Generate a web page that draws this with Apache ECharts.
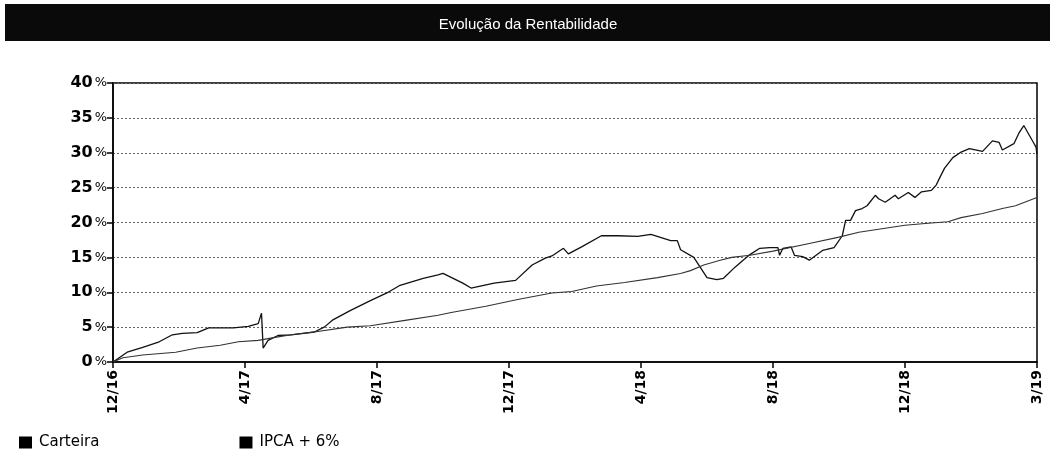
<!DOCTYPE html>
<html>
<head>
<meta charset="utf-8">
<script src="https://cdn.jsdelivr.net/npm/echarts@6/dist/echarts.min.js"></script>
<style>
  html, body { margin: 0; padding: 0; background: #fff; }
  #chart { width: 1056px; height: 452px; }
</style>
</head>
<body>
<div id="chart"></div>
<script>
// x = months since 12/16, y = rentabilidade acumulada (%)
const tickLabels = ['12/16', '4/17', '8/17', '12/17', '4/18', '8/18', '12/18', '3/19'];
const seriesNames = ['Carteira', 'IPCA + 6%'];

const carteiraMonths = [0, 0.43, 0.9, 1.4, 1.8, 2.1, 2.55, 2.9, 3.65, 4.1, 4.4, 4.5, 4.55, 4.7, 5.0, 5.4, 6.1, 6.4,
  6.65, 7.2, 7.8, 8.3, 8.7, 9.4, 9.85, 10.0, 10.6, 10.85, 11.55, 12.2, 12.7, 13.1, 13.3, 13.65, 13.8, 14.2,
  14.8, 15.3, 15.9, 16.3, 16.9, 17.1, 17.2, 17.6, 18.0, 18.3, 18.5, 18.85, 19.05, 19.3, 19.6, 19.9, 20.15,
  20.2, 20.3, 20.55, 20.65, 20.9, 21.1, 21.5, 21.6, 21.85, 22.1, 22.2, 22.35, 22.5, 22.7, 22.85, 23.1, 23.2,
  23.4, 23.7, 23.8, 24.1, 24.3, 24.5, 24.8, 24.95, 25.05, 25.2, 25.45, 25.7, 25.95, 26.35, 26.65, 26.85,
  26.95, 27.3, 27.45, 27.6, 27.9, 27.97, 28];
const carteiraValues = [0, 1.4, 2.1, 2.9, 3.9, 4.1, 4.2, 4.9, 4.9, 5.1, 5.5, 7.0, 2.0, 3.1, 3.8, 3.9, 4.3, 5.0,
  6.0, 7.4, 8.8, 9.9, 11.0, 12.0, 12.5, 12.7, 11.3, 10.6, 11.3, 11.7, 13.9, 14.9, 15.2, 16.3, 15.5, 16.5,
  18.1, 18.1, 18.0, 18.3, 17.4, 17.4, 16.1, 15.0, 12.1, 11.8, 12.0, 13.6, 14.4, 15.4, 16.3, 16.4, 16.4,
  15.3, 16.3, 16.5, 15.3, 15.1, 14.6, 16.0, 16.1, 16.4, 18.1, 20.3, 20.3, 21.7, 22.0, 22.4, 23.9, 23.4,
  22.9, 23.9, 23.4, 24.3, 23.6, 24.4, 24.6, 25.4, 26.4, 27.8, 29.3, 30.1, 30.6, 30.2, 31.7, 31.5,
  30.4, 31.3, 32.8, 33.9, 31.4, 30.8, 29.8];

const ipcaMonths = [0, 0.3, 0.9, 1.9, 2.55, 3.25, 3.8, 4.4, 5.0, 5.4, 6.1, 7.1, 7.8, 8.9, 9.85, 10.25, 11.3,
  12.3, 13.3, 13.9, 14.65, 15.5, 16.5, 17.2, 17.5, 17.9, 18.4, 18.75, 19.3, 20.0, 21.1, 22.0, 22.6, 23.3,
  24.0, 24.7, 25.3, 25.7, 26.35, 26.95, 27.35, 27.9, 28];
const ipcaValues = [0, 0.6, 1.0, 1.4, 2.0, 2.4, 2.9, 3.1, 3.6, 3.9, 4.3, 5.0, 5.2, 6.0, 6.7, 7.1, 8.0,
  9.0, 9.9, 10.1, 10.9, 11.4, 12.1, 12.7, 13.1, 13.9, 14.6, 15.0, 15.3, 15.9, 17.0, 17.9, 18.6, 19.1,
  19.6, 19.9, 20.1, 20.7, 21.3, 22.0, 22.4, 23.4, 23.6];

function pairs(xs, ys) {
  return xs.map((x, i) => [x, ys[i]]);
}

const chart = echarts.init(document.getElementById('chart'));
chart.setOption({
  animation: false,
  backgroundColor: '#fff',
  graphic: [
    {
      type: 'rect',
      left: 5,
      top: 4,
      shape: { width: 1045, height: 37 },
      style: { fill: '#0a0a0a' }
    }
  ],
  title: {
    text: 'Evolução da Rentabilidade',
    left: 'center',
    top: 12,
    textStyle: {
      color: '#fff',
      fontFamily: 'Liberation Sans',
      fontSize: 15,
      fontWeight: 'normal'
    }
  },
  legend: {
    left: 14,
    top: 430,
    icon: 'rect',
    itemWidth: 13,
    itemHeight: 12,
    itemGap: 140,
    textStyle: {
      color: '#000',
      fontFamily: 'DejaVu Sans',
      fontSize: 15,
      padding: [0, 0, 0, 2]
    },
    data: seriesNames
  },
  grid: {
    left: 113,
    right: 19,
    top: 83,
    bottom: 90,
    show: true,
    borderColor: '#000',
    borderWidth: 1.5
  },
  xAxis: {
    type: 'value',
    min: 0,
    max: 28,
    interval: 4,
    axisLine: { lineStyle: { color: '#000', width: 1.5 } },
    axisTick: { length: 6, lineStyle: { color: '#000', width: 1.5 } },
    axisLabel: {
      rotate: 90,
      margin: 8,
      color: '#000',
      fontFamily: 'DejaVu Sans',
      fontWeight: 'bold',
      fontSize: 14,
      formatter: v => tickLabels[Math.round(v / 4)]
    },
    splitLine: { show: false }
  },
  yAxis: {
    type: 'value',
    min: 0,
    max: 40,
    interval: 5,
    axisLine: { show: true, lineStyle: { color: '#000', width: 1.5 } },
    axisTick: { show: true, length: 6, lineStyle: { color: '#000', width: 1.5 } },
    axisLabel: {
      margin: 6,
      color: '#000',
      formatter: v => '{n|' + v + '}{p|%}',
      rich: {
        n: { fontFamily: 'DejaVu Sans', fontWeight: 'bold', fontSize: 16, color: '#000' },
        p: { fontFamily: 'DejaVu Sans', fontSize: 13, color: '#000', padding: [0, 0, 0, 2] }
      }
    },
    splitLine: { lineStyle: { color: '#666', type: [2, 2], width: 1 } }
  },
  series: [
    {
      name: seriesNames[0],
      type: 'line',
      data: pairs(carteiraMonths, carteiraValues),
      showSymbol: false,
      color: '#000',
      lineStyle: { color: '#111', width: 1.3 }
    },
    {
      name: seriesNames[1],
      type: 'line',
      data: pairs(ipcaMonths, ipcaValues),
      showSymbol: false,
      color: '#000',
      lineStyle: { color: '#333', width: 1.1 }
    }
  ]
});
</script>
</body>
</html>
